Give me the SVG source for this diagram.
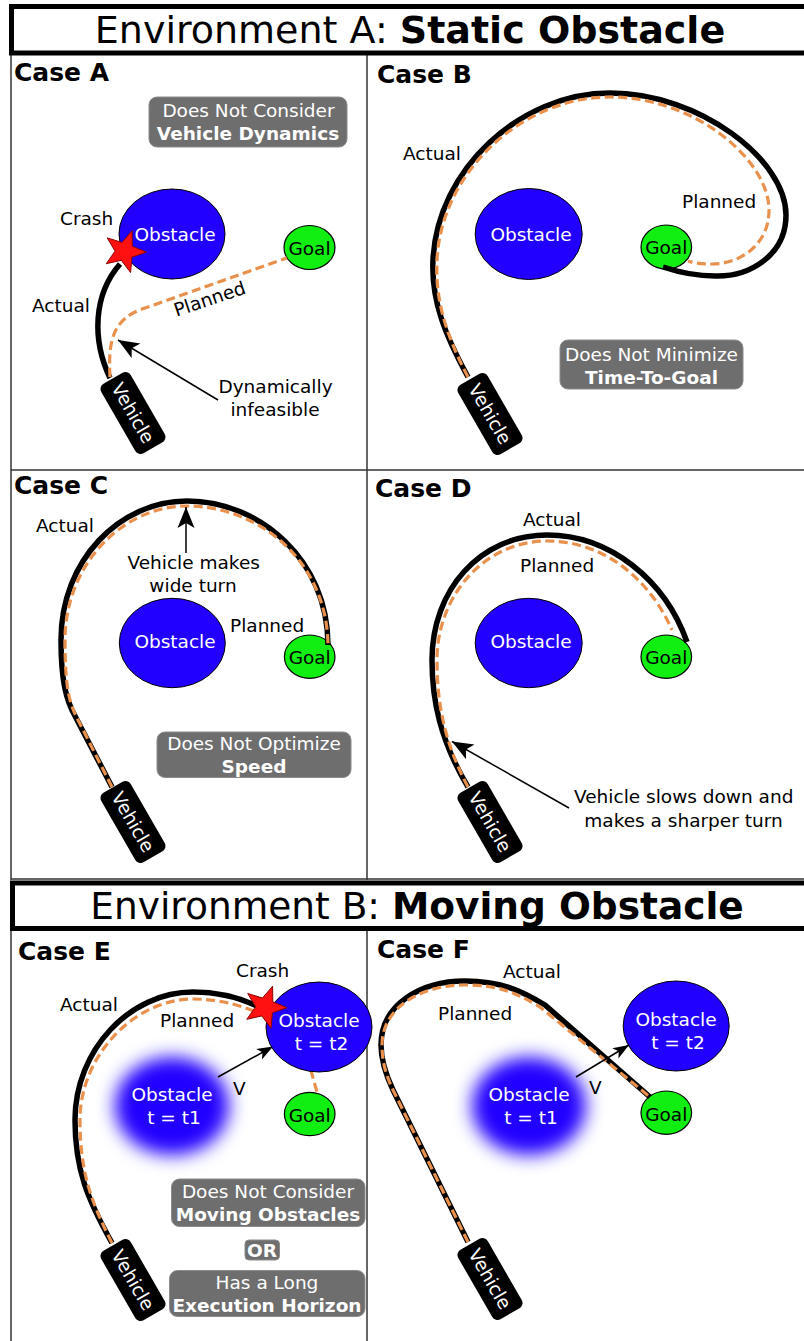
<svg xmlns="http://www.w3.org/2000/svg" width="804" height="1341" viewBox="0 0 804 1341">
<defs>
<style>
text{font-family:"DejaVu Sans","Liberation Sans",sans-serif}
.frame{stroke:#333;stroke-width:1.5;fill:none}
.hdr{fill:#fff;stroke:#000;stroke-width:5}
.htxt{font-size:38px;fill:#000}
.case{font-size:25px;font-weight:bold;fill:#000}
.lbl{font-size:18.5px;fill:#000}
.mid{text-anchor:middle}
.obs{fill:#2200ff;stroke:#000;stroke-width:1}
.obst{font-size:18.5px;fill:#fff;text-anchor:middle}
.goal{fill:#11ee11;stroke:#000;stroke-width:1.2}
.goalt{font-size:18.5px;fill:#000;text-anchor:middle}
.box{fill:#6e6e6e;stroke:#8c8c8c;stroke-width:1}
.boxt{font-size:18.5px;fill:#fff;text-anchor:middle}
.b{font-weight:bold}
.act{fill:none;stroke:#000;stroke-width:5.5}
.plan{fill:none;stroke:#e8904c;stroke-width:3.2;stroke-dasharray:9 4.5}
.arr{stroke:#000;stroke-width:1.5;fill:none}
.veh{fill:#000}
.vt{font-size:18.5px;fill:#fff;text-anchor:middle}
.star{fill:#ff1111;stroke:#8a0000;stroke-width:1}
</style>
<marker id="ah" viewBox="-22 -10 24 20" refX="0" refY="0" markerWidth="24" markerHeight="20" orient="auto" markerUnits="userSpaceOnUse">
<path d="M0,0 L-21,-8.5 L-16,0 L-21,8.5 Z" fill="#000"/>
</marker>
<marker id="ahs" viewBox="-18 -8 20 16" refX="0" refY="0" markerWidth="20" markerHeight="16" orient="auto" markerUnits="userSpaceOnUse">
<path d="M0,0 L-16,-6 L-12,0 L-16,6 Z" fill="#000"/>
</marker>
<filter id="blur" x="-60%" y="-60%" width="220%" height="220%">
<feGaussianBlur stdDeviation="9"/>
</filter>
<polygon id="starshape" points="7.6,-20.7 7.8,-5.2 22,0.7 7.4,5.8 6.1,21.2 -3.2,8.9 -18.2,12.3 -9.4,-0.3 -17.3,-13.5 -2.6,-9"/>
<g id="vehshape">
<rect class="veh" x="-17" y="-40" width="34" height="80" rx="6"/>
<text class="vt" transform="rotate(90)" y="6.5">Vehicle</text>
</g>
</defs>

<rect x="0" y="0" width="804" height="1341" fill="#fff"/>

<g id="frame">
<line class="frame" x1="11" y1="55" x2="11" y2="880"/>
<line class="frame" x1="11" y1="930" x2="11" y2="1341"/>
<line class="frame" x1="367" y1="55" x2="367" y2="880"/>
<line class="frame" x1="367" y1="930" x2="367" y2="1341"/>
<line class="frame" x1="11" y1="470" x2="804" y2="470"/>
<line class="frame" x1="11" y1="879" x2="804" y2="879"/>
</g>

<g id="header-a">
<rect class="hdr" x="11.5" y="6.5" width="800" height="46.5"/>
<text class="htxt mid" x="410" y="43">Environment A: <tspan class="b">Static Obstacle</tspan></text>
</g>
<g id="header-b">
<rect class="hdr" x="12.5" y="883" width="800" height="45.5"/>
<text class="htxt mid" x="417" y="918.5" style="font-size:37.5px">Environment B: <tspan class="b">Moving Obstacle</tspan></text>
</g>

<g id="case-labels">
<text class="case" x="14" y="81">Case A</text>
<text class="case" x="377" y="83">Case B</text>
<text class="case" x="14" y="494">Case C</text>
<text class="case" x="375" y="497">Case D</text>
<text class="case" x="18" y="960">Case E</text>
<text class="case" x="377" y="958">Case F</text>
</g>

<g id="note-a">
<rect class="box" x="149" y="97" width="198" height="50" rx="8"/>
<text class="boxt" x="248.5" y="117">Does Not Consider</text>
<text class="boxt b" x="248" y="139.5">Vehicle Dynamics</text>
</g>
<g id="note-b">
<rect class="box" x="560" y="340" width="183" height="49" rx="8"/>
<text class="boxt" x="651.5" y="361">Does Not Minimize</text>
<text class="boxt b" x="651.5" y="384">Time-To-Goal</text>
</g>
<g id="note-c">
<rect class="box" x="157" y="732" width="194" height="45.5" rx="8"/>
<text class="boxt" x="254" y="749.5">Does Not Optimize</text>
<text class="boxt b" x="254" y="772.5">Speed</text>
</g>
<g id="note-e1">
<rect class="box" x="171.5" y="1179" width="193.5" height="47.5" rx="8"/>
<text class="boxt" x="268" y="1198">Does Not Consider</text>
<text class="boxt b" x="268" y="1221">Moving Obstacles</text>
</g>
<g id="note-e-or">
<rect class="box" x="245" y="1240" width="34.5" height="20" rx="4"/>
<text class="boxt b" x="262" y="1256.5">OR</text>
</g>
<g id="note-e2">
<rect class="box" x="169.5" y="1270.5" width="195.5" height="46" rx="8"/>
<text class="boxt" x="267" y="1288.5">Has a Long</text>
<text class="boxt b" x="267" y="1311.5">Execution Horizon</text>
</g>

<g id="obstacle-a"><ellipse class="obs" cx="172" cy="234" rx="53" ry="45"/><text class="obst" x="175" y="240.5">Obstacle</text></g>
<g id="goal-a"><ellipse class="goal" cx="309.5" cy="247.5" rx="25.5" ry="22"/><text class="goalt" x="309.5" y="254.5">Goal</text></g>
<g id="obstacle-b"><ellipse class="obs" cx="528.7" cy="234" rx="53.5" ry="45.5"/><text class="obst" x="531" y="240.5">Obstacle</text></g>
<g id="goal-b"><ellipse class="goal" cx="666.3" cy="247" rx="25.3" ry="22"/><text class="goalt" x="666.3" y="254">Goal</text></g>
<g id="obstacle-c"><ellipse class="obs" cx="172.3" cy="643" rx="53" ry="44.7"/><text class="obst" x="175" y="648">Obstacle</text></g>
<g id="goal-c"><ellipse class="goal" cx="309.7" cy="656.7" rx="25.3" ry="21.7"/><text class="goalt" x="309.7" y="664">Goal</text></g>
<g id="obstacle-d"><ellipse class="obs" cx="528.7" cy="643" rx="53.5" ry="44.7"/><text class="obst" x="531" y="648">Obstacle</text></g>
<g id="goal-d"><ellipse class="goal" cx="666.3" cy="656.7" rx="25.3" ry="21.7"/><text class="goalt" x="666.3" y="664">Goal</text></g>
<g id="obstacle-e-t1">
<ellipse cx="172" cy="1106" rx="57" ry="49" fill="#2200ff" filter="url(#blur)"/>
<text class="obst" x="172" y="1101">Obstacle</text>
<text class="obst" x="174" y="1123.5">t = t1</text>
</g>
<g id="goal-e"><ellipse class="goal" cx="309.7" cy="1114" rx="25.3" ry="21.7"/><text class="goalt" x="309.7" y="1121.5">Goal</text></g>
<g id="obstacle-f-t1">
<ellipse cx="529" cy="1106" rx="57" ry="49" fill="#2200ff" filter="url(#blur)"/>
<text class="obst" x="529" y="1100.5">Obstacle</text>
<text class="obst" x="531" y="1123.5">t = t1</text>
</g>
<g id="goal-f"><ellipse class="goal" cx="666.3" cy="1112.7" rx="25.3" ry="21.7"/><text class="goalt" x="666.3" y="1120.5">Goal</text></g>
<g id="obstacle-f-t2"><ellipse class="obs" cx="676.2" cy="1026" rx="53" ry="45"/><text class="obst" x="676" y="1025.5">Obstacle</text><text class="obst" x="678" y="1049">t = t2</text></g>

<g id="connectors">
<path class="act" d="M 110 378 C 92 340, 93 295, 120 264"/>
<path class="plan" d="M 110 377 C 108 340, 113 320, 142 309 L 287 258"/>
<line class="arr" x1="218" y1="400" x2="118" y2="340" marker-end="url(#ah)"/>
<path class="act" d="M 468 377 C 445 335, 431 300, 433 260 C 437 170, 520 93, 610 93 C 700 93, 786 160, 786 215 C 786 255, 750 277, 715 276 C 695 276, 678 272, 663 267"/>
<path class="plan" d="M 468 377 C 446 335, 435 300, 437 260 C 441 172, 522 97, 610 97 C 695 97, 769 160, 769 210 C 769 245, 740 264, 712 264 C 700 264, 693 263, 688 261"/>
<path class="act" d="M 112 787 L 75 716 C 66 700, 61 680, 61 640 C 61 560, 120 501, 187 501 C 260 501, 328 560, 328 645"/>
<path class="plan" d="M 112 787 L 76 716 C 68 700, 65 680, 65 640 C 65 565, 122 506, 187 506 C 258 506, 327 560, 328 645"/>
<line class="arr" x1="186" y1="553" x2="186" y2="507" marker-end="url(#ah)"/>
<path class="act" d="M 468 787 C 440 740, 432 700, 432 660 C 432 590, 480 535, 547 535 C 610 535, 665 580, 687 642"/>
<path class="plan" d="M 468 787 C 443 740, 437 700, 437 660 C 437 595, 485 541, 547 541 C 605 541, 650 580, 672 630"/>
<line class="arr" x1="569" y1="808" x2="452" y2="741.5" marker-end="url(#ah)"/>
<path class="act" d="M 112 1243 C 88 1200, 75 1170, 75 1120 C 75 1050, 130 992, 193 992 C 220 992, 240 998, 257 1006"/>
<path class="plan" d="M 112 1243 C 90 1200, 80 1170, 80 1120 C 80 1055, 135 999, 193 999 C 250 999, 300 1030, 308 1060 L 317 1092"/>
<line class="arr" x1="218" y1="1077" x2="273" y2="1046.5" marker-end="url(#ahs)"/>
<path class="act" d="M 468 1242 L 393 1090 C 385 1073, 381 1060, 381 1045 C 381 1005, 420 981, 465 981 C 500 981, 520 990, 545 1005 L 650 1097"/>
<path class="plan" d="M 468 1242 L 393 1090 C 385 1073, 382 1060, 382 1045 C 382 1008, 420 985, 465 985 C 498 985, 515 992, 540 1007 L 650 1097"/>
<line class="arr" x1="576" y1="1077" x2="629" y2="1045" marker-end="url(#ahs)"/>
</g>

<g id="obstacle-e-t2"><ellipse class="obs" cx="319" cy="1027" rx="53" ry="45"/><text class="obst" x="319" y="1027">Obstacle</text><text class="obst" x="321.5" y="1050">t = t2</text></g>

<g id="crash-a"><use href="#starshape" class="star" transform="translate(124.5,251.4)"/></g>
<g id="crash-e"><use href="#starshape" class="star" transform="translate(265,1007)"/></g>

<g id="vehicle-a"><use href="#vehshape" transform="translate(133,413) rotate(-30)"/></g>
<g id="vehicle-b"><use href="#vehshape" transform="translate(490,414) rotate(-30)"/></g>
<g id="vehicle-c"><use href="#vehshape" transform="translate(133,822) rotate(-30)"/></g>
<g id="vehicle-d"><use href="#vehshape" transform="translate(490,822) rotate(-30)"/></g>
<g id="vehicle-e"><use href="#vehshape" transform="translate(133,1280) rotate(-30)"/></g>
<g id="vehicle-f"><use href="#vehshape" transform="translate(490,1279) rotate(-30)"/></g>

<g id="labels">
<text class="lbl" x="60" y="225">Crash</text>
<text class="lbl" x="32" y="312">Actual</text>
<text class="lbl mid" x="211.7" y="305" transform="rotate(-18.5 211.7 305)">Planned</text>
<text class="lbl mid" x="275.5" y="393">Dynamically</text>
<text class="lbl mid" x="275" y="416">infeasible</text>

<text class="lbl" x="403" y="160">Actual</text>
<text class="lbl" x="682" y="208">Planned</text>

<text class="lbl" x="36" y="532">Actual</text>
<text class="lbl" x="230" y="632">Planned</text>
<text class="lbl mid" x="193.7" y="569">Vehicle makes</text>
<text class="lbl mid" x="193" y="592">wide turn</text>

<text class="lbl" x="523" y="526">Actual</text>
<text class="lbl" x="520" y="572">Planned</text>
<text class="lbl mid" x="683.7" y="803">Vehicle slows down and</text>
<text class="lbl mid" x="683.5" y="827">makes a sharper turn</text>

<text class="lbl" x="236" y="977">Crash</text>
<text class="lbl" x="60" y="1011">Actual</text>
<text class="lbl" x="160" y="1027">Planned</text>
<text class="lbl" x="233" y="1095">V</text>

<text class="lbl" x="503" y="978">Actual</text>
<text class="lbl" x="438" y="1020">Planned</text>
<text class="lbl" x="589" y="1094">V</text>
</g>
</svg>
